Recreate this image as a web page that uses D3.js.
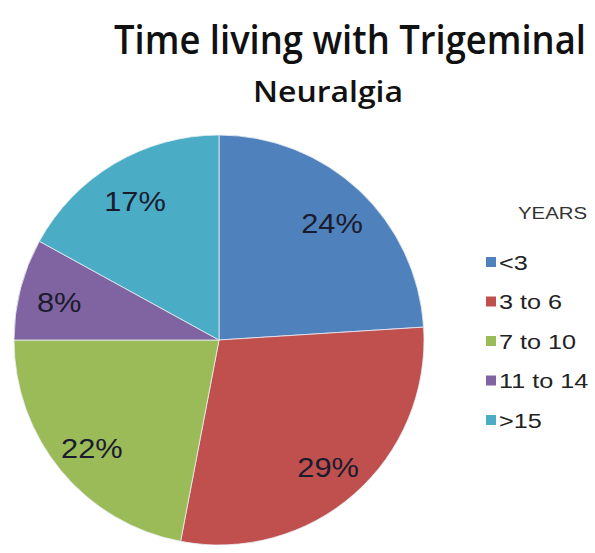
<!DOCTYPE html>
<html>
<head>
<meta charset="utf-8">
<script src="https://cdn.jsdelivr.net/npm/d3@7"></script>
<style>
  body { margin: 0; background: #fff; }
  svg { display: block; }
</style>
</head>
<body>
<div id="chart"></div>
<script>
// data
var categories = ["<3", "3 to 6", "7 to 10", "11 to 14", ">15"];
var shares = [24, 29, 22, 8, 17];
var colours = ["#4f81bd", "#c0504d", "#9bbb59", "#8064a2", "#4bacc6"];
var titleLines = ["Time living with Trigeminal", "Neuralgia"];
var legendTitle = "YEARS";

var width = 595, height = 553;

var svg = d3.select("#chart").append("svg")
    .attr("width", width)
    .attr("height", height);

// title
svg.append("text")
  .attr("transform", "translate(114,54) scale(1,1.15)")
  .attr("textLength", 472)
  .attr("lengthAdjust", "spacingAndGlyphs")
  .style("font-family", "'Open Sans', sans-serif")
  .style("font-weight", 600)
  .style("font-size", "35px")
  .style("fill", "#111")
  .text(titleLines[0]);
svg.append("text")
  .attr("x", 253).attr("y", 102)
  .attr("textLength", 150)
  .attr("lengthAdjust", "spacingAndGlyphs")
  .style("font-family", "'Open Sans', sans-serif")
  .style("font-weight", 600)
  .style("font-size", "28px")
  .style("fill", "#111")
  .text(titleLines[1]);

// pie
var cx = 219, cy = 340, r = 205;
var color = d3.scaleOrdinal().domain(categories).range(colours);

var pie = d3.pie()
    .sort(null)
    .value(function(d, i) { return shares[i]; });

var arcs = pie(categories);

var arcFn = d3.arc().innerRadius(0).outerRadius(r);
var labelArc = d3.arc().innerRadius(165).outerRadius(165);

var g = svg.append("g").attr("transform", "translate(" + cx + "," + cy + ")");

g.selectAll("path")
  .data(arcs)
  .enter().append("path")
    .attr("d", arcFn)
    .attr("fill", function(d) { return color(d.data); })
    .attr("stroke", "#e8eef4")
    .attr("stroke-width", 0.8);

g.selectAll("text")
  .data(arcs)
  .enter().append("text")
    .attr("transform", function(d) {
      var c = labelArc.centroid(d);
      return "translate(" + c[0] + "," + (c[1] + 3) + ") scale(1.1,1)";
    })
    .attr("text-anchor", "middle")
    .attr("dy", "0.36em")
    .style("font-family", "'Liberation Sans', Arial, sans-serif")
    .style("font-size", "28px")
    .style("fill", "#1b1b2e")
    .text(function(d, i) { return shares[i] + "%"; });

// legend
var legend = svg.append("g").attr("transform", "translate(486,0)");

legend.append("text")
  .attr("x", 32).attr("y", 219)
  .attr("transform", "translate(32,0) scale(1.2,1) translate(-32,0)")
  .style("font-family", "'Liberation Sans', Arial, sans-serif")
  .style("font-size", "17px")
  .style("fill", "#333")
  .text(legendTitle);

var y = d3.scalePoint().domain(categories).range([262, 420]);

var item = legend.selectAll("g.item")
  .data(categories)
  .enter().append("g")
    .attr("class", "item")
    .attr("transform", function(d) { return "translate(0," + y(d) + ")"; });

item.append("rect")
  .attr("x", 0).attr("y", -5)
  .attr("width", 10).attr("height", 10)
  .attr("fill", function(d) { return color(d); });

item.append("text")
  .attr("x", 10).attr("dy", "0.36em")
  .attr("transform", "translate(1,0) scale(1.2,1)")
  .style("font-family", "'Liberation Sans', Arial, sans-serif")
  .style("font-size", "21px")
  .style("fill", "#222")
  .text(function(d) { return d; });
</script>
</body>
</html>
